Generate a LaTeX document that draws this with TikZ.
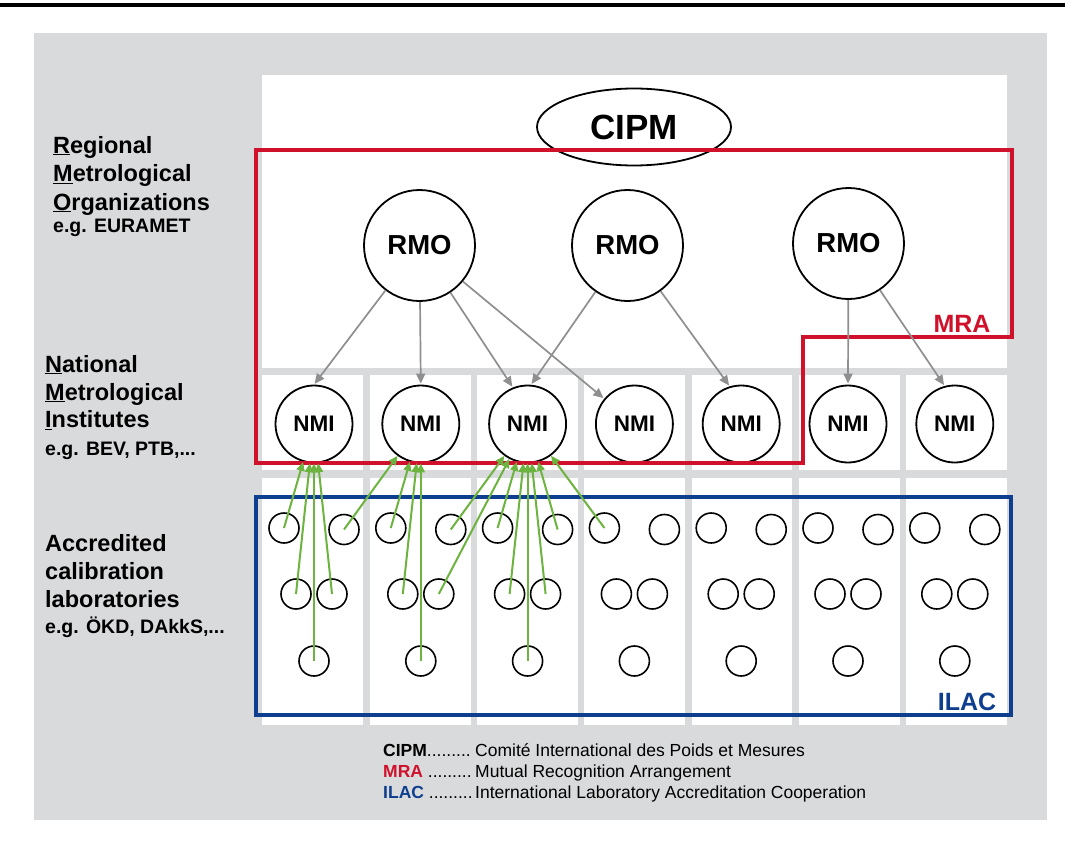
\documentclass[tikz,border=0pt]{standalone}
\usepackage{fontspec}
\setmainfont{Liberation Sans}
\usetikzlibrary{arrows.meta,shapes.geometric}
\definecolor{PanelGray}{HTML}{D9DADC}
\definecolor{MRARed}{HTML}{D0112B}
\definecolor{ILACBlue}{HTML}{0E3E8E}
\definecolor{LinkGray}{HTML}{8F8F8F}
\definecolor{LabGreen}{HTML}{6CB33F}
\tikzset{
  org/.style={circle,draw,line width=1.8pt,inner sep=0pt},
  rmo/.style={org,minimum size=111pt,font=\fontsize{27.5}{27.5}\selectfont\bfseries},
  nmi/.style={org,minimum size=77pt,font=\fontsize{22.5}{22.5}\selectfont\bfseries},
  lab/.style={circle,draw,line width=1.6pt,minimum size=30pt,inner sep=0pt},
  rmolink/.style={-{Triangle[length=10pt,width=9pt]},LinkGray,line width=1.7pt,shorten >=1pt},
  lablink/.style={-{Triangle[length=9pt,width=8pt]},LabGreen,line width=2pt},
  tier/.style={anchor=base west,inner sep=0pt,font=\fontsize{23.5}{28}\selectfont\bfseries},
  tiernote/.style={anchor=base west,inner sep=0pt,font=\fontsize{19.5}{24}\selectfont\bfseries},
  abbr/.style={anchor=base west,inner sep=0pt,font=\fontsize{17.5}{20}\selectfont},
}

\begin{document}
\begin{tikzpicture}[x=1pt,y=-1pt]
  \useasboundingbox (0,0) rectangle (1065,843);
  \fill[white] (0,0) rectangle (1065,843);
  \draw[line width=3.5pt] (0,5) -- (1065,5);
  \fill[PanelGray] (34,33) rectangle (1047,820);
  % white panel split into the three rows and seven columns
  \fill[white] (262,75) rectangle (1007,725);
  \fill[PanelGray] (262,368) rectangle (1007,375);
  \fill[PanelGray] (262,470) rectangle (1007,478);
  \foreach \k in {1,...,6} {
    \fill[PanelGray] ({259.2+107.3*\k-3.3},368) rectangle ({259.2+107.3*\k+3.3},725);
  }

  \node[tier] (reg1) at (53,153) {\underline{R}egional};
  \node[tier] (reg2) at (53,181.7) {\underline{M}etrological};
  \node[tier] (reg3) at (53,210) {\underline{O}rganizations};
  \node[tiernote] (reg4) at (53,232) {e.g. EURAMET};
  \node[tier] (nat1) at (45,372) {\underline{N}ational};
  \node[tier] (nat2) at (45,400) {\underline{M}etrological};
  \node[tier] (nat3) at (45,427.5) {\underline{I}nstitutes};
  \node[tiernote] (nat4) at (45,455) {e.g. BEV, PTB,...};
  \node[tier] (acc1) at (45,551) {Accredited};
  \node[tier] (acc2) at (45,579) {calibration};
  \node[tier] (acc3) at (45,607) {laboratories};
  \node[tiernote] (acc4) at (45,633) {e.g. ÖKD, DAkkS,...};

  \node[ellipse,draw,line width=1.8pt,minimum width=194pt,minimum height=77pt,
        font=\fontsize{35}{35}\selectfont\bfseries] (cipm) at (634,127) {CIPM};
  \node[rmo] (r1) at (419.5,245.5) {RMO};
  \node[rmo] (r2) at (627.5,245.5) {RMO};
  \node[rmo] (r3) at (848.5,243.5) {RMO};

  \foreach \i in {0,...,6} {
    \node[nmi] (n\i) at ({314+106.8*\i},424) {NMI};
    \node[lab] (lab\i-a) at ({284+106.8*\i},528) {};
    \node[lab] (lab\i-b) at ({344+106.8*\i},529.5) {};
    \node[lab] (lab\i-c) at ({296+106.8*\i},594) {};
    \node[lab] (lab\i-d) at ({332+106.8*\i},594) {};
    \node[lab] (lab\i-e) at ({314+106.8*\i},661) {};
  }

  \draw[MRARed,line width=3.5pt] (256,150) -- (1012,150) -- (1012,337) -- (803,337)
    -- (803,463) -- (256,463) -- cycle;
  \draw[ILACBlue,line width=3.5pt] (256,497) rectangle (1011,715);
  \node[MRARed,font=\fontsize{25}{25}\selectfont\bfseries,anchor=base] (mra) at (962,332) {MRA};
  \node[ILACBlue,font=\fontsize{25}{25}\selectfont\bfseries,anchor=base] (ilac) at (967,710) {ILAC};

  \foreach \r/\n in {1/0.north,1/1.north,1/2.112,1/3.140,2/2.85,2/4.107,3/5.north,3/6.105} {
    \draw[rmolink] (r\r) -- (n\n);
  }
  \foreach \s/\t in {0-a/0,0-c/0,0-e/0,0-d/0,0-b/1,1-a/1,1-c/1,1-e/1,
                     1-b/2,1-d/2,2-a/2,2-c/2,2-e/2,2-d/2,2-b/2,3-a/2} {
    \draw[lablink] (lab\s.center) -- (n\t);
  }

  \node[abbr] (kcipm) at (383,756) {\textbf{CIPM}.........};
  \node[abbr] (tcipm) at (475,756) {Comité International des Poids et Mesures};
  \node[abbr] (kmra) at (383,777) {\textbf{\color{MRARed}MRA} .........};
  \node[abbr] (tmra) at (475,777) {Mutual Recognition Arrangement};
  \node[abbr] (kilac) at (383,798) {\textbf{\color{ILACBlue}ILAC} .........};
  \node[abbr] (tilac) at (475,798) {International Laboratory Accreditation Cooperation};
\end{tikzpicture}
\end{document}
